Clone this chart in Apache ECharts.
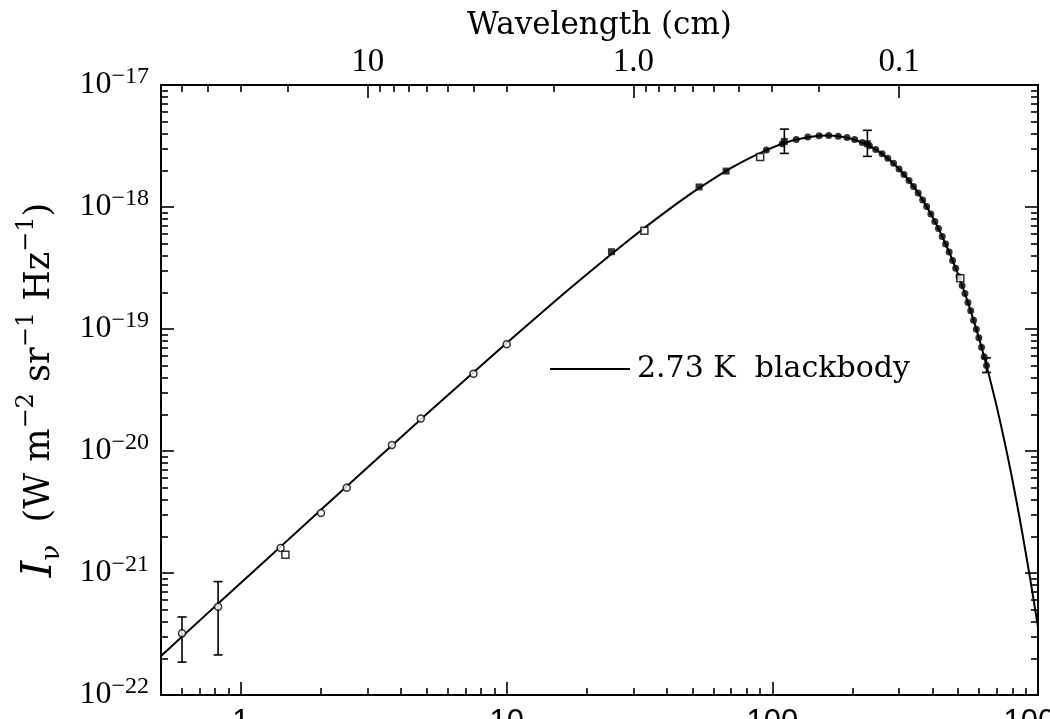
<!DOCTYPE html>
<html><head><meta charset="utf-8">
<script src="https://cdn.jsdelivr.net/npm/echarts@6/dist/echarts.min.js"></script>
<style>html,body{margin:0;padding:0;background:#fff}#c{width:1050px;height:719px}</style>
</head><body><div id="c"></div>
<script>
// ---------- data ----------
// 2.73 K blackbody curve, frequency in GHz, intensity in W m^-2 sr^-1 Hz^-1
const curveFreqGHz = [0.5, 0.7, 1, 1.5, 2, 3, 5, 7, 10, 15, 20, 30, 40, 50, 60, 70, 80, 100, 120, 140, 160, 180, 200, 230, 260, 300, 350, 400, 450, 500, 550, 600, 650, 700, 750, 800, 850, 900, 950, 1000];
const curveIntensity = [2.09e-22, 4.09e-22, 8.31e-22, 1.86e-21, 3.30e-21, 7.35e-21, 2.01e-20, 3.86e-20, 7.67e-20, 1.65e-19, 2.80e-19, 5.73e-19, 9.25e-19, 1.31e-18, 1.70e-18, 2.09e-18, 2.45e-18, 3.07e-18, 3.52e-18, 3.77e-18, 3.86e-18, 3.79e-18, 3.61e-18, 3.20e-18, 2.71e-18, 2.05e-18, 1.35e-18, 8.34e-19, 4.93e-19, 2.81e-19, 1.55e-19, 8.36e-20, 4.41e-20, 2.29e-20, 1.17e-20, 5.89e-21, 2.93e-21, 1.45e-21, 7.2e-22, 3.6e-22];

// low-frequency measurements (open circles)
const circleFreqGHz = [0.6, 0.82, 1.41, 2.0, 2.5, 3.7, 4.75, 7.5, 10.0];
const circleIntensity = [3.2e-22, 5.3e-22, 1.60e-21, 3.1e-21, 5.0e-21, 1.12e-20, 1.85e-20, 4.3e-20, 7.5e-20];

// open squares
const squareFreqGHz = [1.47, 33, 90, 510];
const squareIntensity = [1.41e-21, 6.4e-19, 2.57e-18, 2.6e-19];

// filled markers
const filledFreqGHz = [24.8, 53, 67, 111, 228];
const filledIntensity = [4.3e-19, 1.46e-18, 1.97e-18, 3.45e-18, 3.3e-18];

// dense spectrum points (small filled dots)
const spectrumFreqGHz = [95, 109, 123, 136, 150, 163, 177, 191, 204, 218, 232, 245, 259, 272, 286, 300, 313, 327, 340, 354, 368, 381, 395, 409, 422, 436, 449, 463, 477, 490, 504, 518, 531, 545, 558, 572, 586, 599, 613, 627, 640];
const spectrumIntensity = [2.93e-18, 3.30e-18, 3.57e-18, 3.74e-18, 3.84e-18, 3.86e-18, 3.81e-18, 3.71e-18, 3.57e-18, 3.38e-18, 3.17e-18, 2.96e-18, 2.73e-18, 2.51e-18, 2.28e-18, 2.05e-18, 1.85e-18, 1.65e-18, 1.47e-18, 1.30e-18, 1.14e-18, 1.01e-18, 8.77e-19, 7.61e-19, 6.65e-19, 5.73e-19, 4.98e-19, 4.27e-19, 3.65e-19, 3.15e-19, 2.68e-19, 2.27e-19, 1.95e-19, 1.65e-19, 1.41e-19, 1.18e-19, 9.96e-20, 8.47e-20, 7.09e-20, 5.93e-20, 5.02e-20];

// error bars
const errFreqGHz = [0.6, 0.82, 111, 228, 640];
const errLow = [1.86e-22, 2.13e-22, 2.75e-18, 2.6e-18, 4.4e-20];
const errHigh = [4.36e-22, 8.5e-22, 4.35e-18, 4.25e-18, 5.8e-20];

// axes
const freqMinGHz = 0.5, freqMaxGHz = 1000;
const intensityMin = 1e-22, intensityMax = 1e-17;
const freqMajorTicksGHz = [1, 10, 100, 1000];
const freqMajorLabels = ['1', '10', '100', '1000'];
const minorMultipliers = [2, 3, 4, 5, 6, 7, 8, 9];
const intensityMajorTicks = [1e-22, 1e-21, 1e-20, 1e-19, 1e-18, 1e-17];
const intensityExponents = ['−22', '−21', '−20', '−19', '−18', '−17'];
const wavelengthMajorCm = [10, 1.0, 0.1];
const wavelengthLabels = ['10', '1.0', '0.1'];
const wavelengthMinorCm = [50, 40, 30, 20, 9, 8, 7, 6, 5, 4, 3, 2, 0.9, 0.8, 0.7, 0.6, 0.5, 0.4, 0.3, 0.2];
const C_CM_GHZ = 29.9792458; // c in cm·GHz
const legendName = '2.73 K  blackbody';

// ---------- build ----------
const lg = Math.log10;
const xMin = lg(freqMinGHz), xMax = lg(freqMaxGHz);
const yMin = lg(intensityMin), yMax = lg(intensityMax);

const xMinor = [];
[0.1, 1, 10, 100].forEach(d => minorMultipliers.forEach(k => xMinor.push(lg(k * d))));
const yMinor = [];
[-22, -21, -20, -19, -18].forEach(d => minorMultipliers.forEach(k => yMinor.push(d + lg(k))));
const topMajor = wavelengthMajorCm.map(l => lg(C_CM_GHZ / l));
const topMinor = wavelengthMinorCm.map(l => lg(C_CM_GHZ / l));

const pairs = (fs, vs) => fs.map((f, i) => [lg(f), lg(vs[i])]);

const SERIF = '"DejaVu Serif", serif';
const NUMSERIF = '"Liberation Serif", serif';
const tickLine = {color: '#000', width: 1.6};

function xAxisDef(pos, major, custom, labels) {
  return {
    type: 'value', position: pos, min: xMin, max: xMax,
    axisLine: {show: false, onZero: false}, splitLine: {show: false},
    axisTick: {show: true, inside: true, length: major ? 13 : 7, lineStyle: tickLine, customValues: custom},
    axisLabel: labels ? labels : {show: false}
  };
}
function yAxisDef(pos, major, custom, labels, extra) {
  return Object.assign({
    type: 'value', position: pos, min: yMin, max: yMax,
    axisLine: {show: false, onZero: false}, splitLine: {show: false},
    axisTick: {show: true, inside: true, length: major ? 13 : 7, lineStyle: tickLine, customValues: custom},
    axisLabel: labels ? labels : {show: false}
  }, extra || {});
}

const option = {
  backgroundColor: '#fff',
  animation: false,
  grid: {left: 161, right: 12, top: 85, bottom: 24, show: true, borderColor: '#000', borderWidth: 2, backgroundColor: 'transparent', containLabel: false, outerBoundsMode: 'none'},
  legend: {
    show: true, selectedMode: false, left: 545, top: 349,
    data: [{name: legendName, icon: 'rect'}],
    itemWidth: 80, itemHeight: 2,
    itemStyle: {color: '#000'},
    textStyle: {fontFamily: SERIF, fontSize: 30, color: '#000', padding: [0, 0, 0, 2]}
  },
  xAxis: [
    xAxisDef('bottom', true, freqMajorTicksGHz.map(lg), {
      show: true, customValues: freqMajorTicksGHz.map(lg), margin: 12,
      fontFamily: '"Liberation Sans", Arial, sans-serif', fontSize: 31, color: '#000',
      formatter: v => { const i = freqMajorTicksGHz.findIndex(f => Math.abs(lg(f) - v) < 1e-6); return i >= 0 ? freqMajorLabels[i] : ''; }
    }),
    xAxisDef('bottom', false, xMinor, null),
    Object.assign(xAxisDef('top', true, topMajor, {
      show: true, customValues: topMajor, margin: 6,
      fontFamily: NUMSERIF, fontSize: 33, color: '#000',
      formatter: v => { const i = topMajor.findIndex(t => Math.abs(t - v) < 1e-6); return i >= 0 ? wavelengthLabels[i] : ''; }
    }), {
      name: 'Wavelength (cm)', nameLocation: 'middle', nameGap: 40,
      nameTextStyle: {fontFamily: SERIF, fontSize: 31, color: '#000'}
    }),
    xAxisDef('top', false, topMinor, null)
  ],
  yAxis: [
    yAxisDef('left', true, intensityMajorTicks.map(lg), {
      show: true, customValues: intensityMajorTicks.map(lg), margin: 12,
      padding: [0, 0, 4, 0],
      formatter: v => { const i = intensityMajorTicks.findIndex(t => Math.abs(lg(t) - v) < 1e-6); return '{b|10}{s|' + intensityExponents[i] + '}'; },
      rich: {
        b: {fontFamily: NUMSERIF, fontSize: 32, lineHeight: 36, verticalAlign: 'bottom', color: '#000'},
        s: {fontFamily: NUMSERIF, fontSize: 24, verticalAlign: 'top', color: '#000'}
      }
    }, {
      name: '{i|I}{sub|ν}{t|  (W m}{sup|−2}{t| sr}{sup|−1}{t| Hz}{sup|−1}{t|)}',
      nameLocation: 'middle', nameGap: 96, nameRotate: 90,
      nameTextStyle: {
        color: '#000',
        rich: {
          i: {fontFamily: SERIF, fontStyle: 'italic', fontSize: 42, lineHeight: 50, verticalAlign: 'middle', color: '#000'},
          sub: {fontFamily: SERIF, fontSize: 26, verticalAlign: 'bottom', color: '#000'},
          t: {fontFamily: SERIF, fontSize: 35, lineHeight: 50, verticalAlign: 'middle', color: '#000'},
          sup: {fontFamily: SERIF, fontSize: 24, verticalAlign: 'top', color: '#000'}
        }
      }
    }),
    yAxisDef('left', false, yMinor, null),
    yAxisDef('right', true, intensityMajorTicks.map(lg), null),
    yAxisDef('right', false, yMinor, null)
  ],
  series: [
    {
      name: legendName, type: 'line', xAxisIndex: 0, yAxisIndex: 0,
      data: pairs(curveFreqGHz, curveIntensity),
      symbol: 'none', smooth: 0.25, lineStyle: {color: '#000', width: 2}, itemStyle: {color: '#000'}, z: 2
    },
    {
      name: 'errorbars', type: 'custom', xAxisIndex: 0, yAxisIndex: 0, z: 4,
      data: errFreqGHz.map((f, i) => [lg(f), lg(errLow[i]), lg(errHigh[i])]),
      encode: {x: 0, y: [1, 2]},
      renderItem: (params, api) => {
        const x = api.value(0);
        const lo = api.coord([x, api.value(1)]);
        const hi = api.coord([x, api.value(2)]);
        const w = 4.5;
        const style = {stroke: '#000', lineWidth: 1.6};
        return {type: 'group', children: [
          {type: 'line', shape: {x1: lo[0], y1: lo[1], x2: hi[0], y2: hi[1]}, style},
          {type: 'line', shape: {x1: lo[0] - w, y1: lo[1], x2: lo[0] + w, y2: lo[1]}, style},
          {type: 'line', shape: {x1: hi[0] - w, y1: hi[1], x2: hi[0] + w, y2: hi[1]}, style}
        ]};
      }
    },
    {
      name: 'spectrum', type: 'scatter', xAxisIndex: 0, yAxisIndex: 0, z: 5,
      data: pairs(spectrumFreqGHz, spectrumIntensity),
      symbol: 'circle', symbolSize: 7, itemStyle: {color: '#000'}
    },
    {
      name: 'circles', type: 'scatter', xAxisIndex: 0, yAxisIndex: 0, z: 5,
      data: pairs(circleFreqGHz, circleIntensity),
      symbol: 'circle', symbolSize: 7, itemStyle: {color: '#fff', borderColor: '#000', borderWidth: 1.5}
    },
    {
      name: 'squares', type: 'scatter', xAxisIndex: 0, yAxisIndex: 0, z: 5,
      data: pairs(squareFreqGHz, squareIntensity),
      symbol: 'rect', symbolSize: 7, itemStyle: {color: '#fff', borderColor: '#000', borderWidth: 1.5}
    },
    {
      name: 'filled', type: 'scatter', xAxisIndex: 0, yAxisIndex: 0, z: 5,
      data: pairs(filledFreqGHz, filledIntensity),
      symbol: 'rect', symbolSize: 7, itemStyle: {color: '#000'}
    }
  ]
};

const chart = echarts.init(document.getElementById('c'), null, {renderer: 'canvas'});
chart.setOption(option);
</script>
</body></html>
